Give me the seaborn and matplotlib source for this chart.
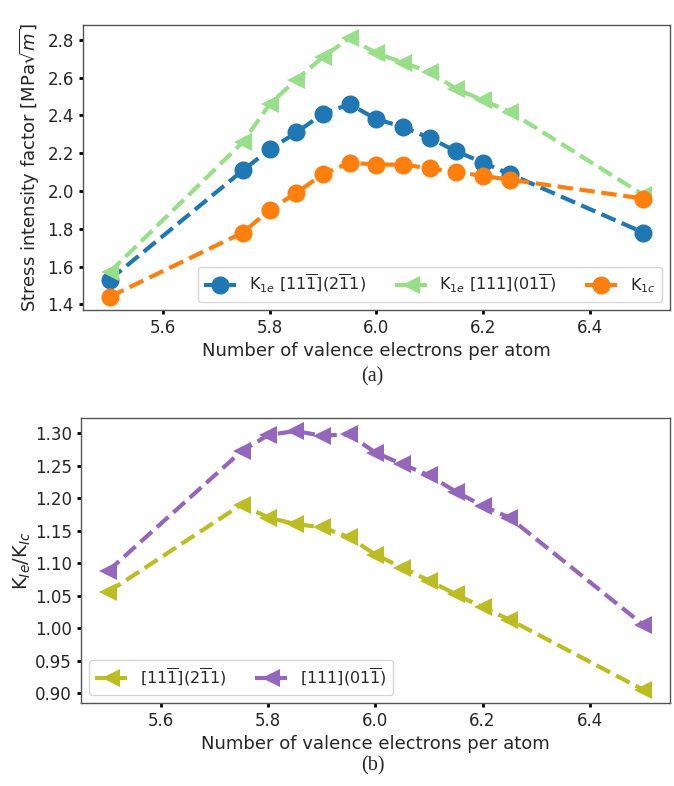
import matplotlib
matplotlib.use("Agg")
import matplotlib.pyplot as plt
import seaborn as sns
import numpy as np

# ---- data ----
vec = [5.5, 5.75, 5.8, 5.85, 5.9, 5.95, 6.0, 6.05, 6.1, 6.15, 6.2, 6.25, 6.5]
k1e_112 = [1.53, 2.11, 2.22, 2.31, 2.41, 2.46, 2.38, 2.34, 2.28, 2.21, 2.15, 2.09, 1.78]
k1e_111 = [1.57, 2.26, 2.46, 2.59, 2.71, 2.81, 2.73, 2.68, 2.63, 2.54, 2.48, 2.42, 1.98]
k1c = [1.44, 1.78, 1.90, 1.99, 2.09, 2.15, 2.14, 2.14, 2.12, 2.10, 2.08, 2.06, 1.96]
ratio_112 = [1.055, 1.190, 1.170, 1.160, 1.155, 1.140, 1.113, 1.093, 1.073, 1.052, 1.032, 1.013, 0.905]
ratio_111 = [1.087, 1.272, 1.297, 1.303, 1.296, 1.298, 1.270, 1.252, 1.235, 1.210, 1.188, 1.170, 1.005]

lab_112 = r"K$_{1e}$ [11$\overline{1}$](2$\overline{1}$1)"
lab_111 = r"K$_{1e}$ [111](01$\overline{1}$)"
lab_1c = r"K$_{1c}$"
lab_r112 = r"[11$\overline{1}$](2$\overline{1}$1)"
lab_r111 = r"[111](01$\overline{1}$)"

sns.set_style("white")
plt.rcParams['font.family'] = ['DejaVu Sans']
plt.rcParams['mathtext.fontset'] = 'dejavusans'

fig = plt.figure(figsize=(6.74, 7.86), dpi=100)
ax1 = fig.add_axes([0.123, 0.606, 0.871, 0.362])
ax2 = fig.add_axes([0.120, 0.106, 0.874, 0.362])

kw = dict(linestyle='--', linewidth=3, markersize=13, markeredgewidth=0)

sns.lineplot(x=vec, y=k1e_112, ax=ax1, color='#1f77b4', marker='o', label=lab_112, **kw)
sns.lineplot(x=vec, y=k1e_111, ax=ax1, color='#98df8a', marker='<', label=lab_111, **kw)
sns.lineplot(x=vec, y=k1c, ax=ax1, color='#ff7f0e', marker='o', label=lab_1c, **kw)

sns.lineplot(x=vec, y=ratio_112, ax=ax2, color='#bcbd22', marker='<', label=lab_r112, **kw)
sns.lineplot(x=vec, y=ratio_111, ax=ax2, color='#9467bd', marker='<', label=lab_r111, **kw)

for ax in (ax1, ax2):
    ax.set_xticks([5.6, 5.8, 6.0, 6.2, 6.4])
    ax.tick_params(axis='both', labelsize=12, length=3, width=2, direction='out',
                   color='black', bottom=True, left=True)
    for s in ax.spines.values():
        s.set_color('#555555')
        s.set_linewidth(1.0)
    ax.set_xlabel("Number of valence electrons per atom", fontsize=13)

ax1.set_yticks([1.4, 1.6, 1.8, 2.0, 2.2, 2.4, 2.6, 2.8])
ax1.set_ylabel(r"Stress intensity factor [MPa$\sqrt{m}$]", fontsize=13)
ax2.set_yticks([0.90, 0.95, 1.00, 1.05, 1.10, 1.15, 1.20, 1.25, 1.30])
ax2.yaxis.set_major_formatter(matplotlib.ticker.FormatStrFormatter('%.2f'))
ax2.set_ylabel(r"K$_{Ie}$/K$_{Ic}$", fontsize=14, labelpad=1)

ax1.legend(loc='lower right', ncol=3, fontsize=11.5, frameon=True, handlelength=2.0,
           columnspacing=1.8)
ax2.legend(loc='lower left', ncol=2, fontsize=11.5, frameon=True, handlelength=2.0,
           columnspacing=1.8)

fig.text(0.553, 0.520, "(a)", ha='center', va='center', fontsize=14.5, family='Liberation Serif')
fig.text(0.553, 0.026, "(b)", ha='center', va='center', fontsize=14.5, family='Liberation Serif')

fig.savefig("out.png", dpi=100)
